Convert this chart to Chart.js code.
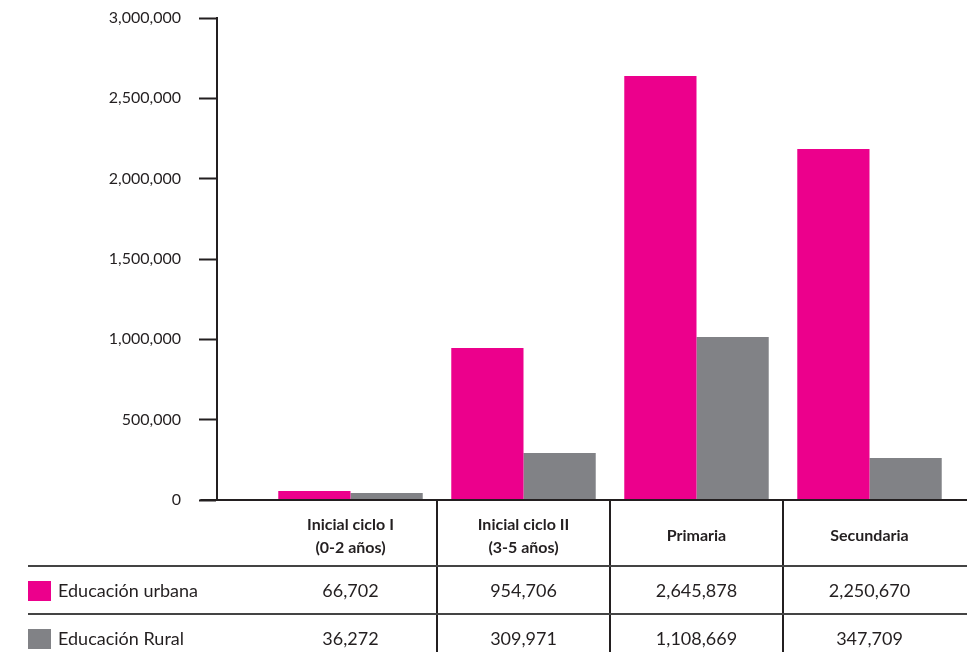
<!DOCTYPE html>
<html>
<head>
<meta charset="utf-8">
<script src="https://cdn.jsdelivr.net/npm/chart.js@4"></script>
<style>
  html, body { margin: 0; padding: 0; background: #fff; }
</style>
</head>
<body>
<canvas id="chart" width="967" height="652"></canvas>
<script>
// categorias (encabezado de la tabla)
const categorias = [["Inicial ciclo I", "(0-2 años)"], ["Inicial ciclo II", "(3-5 años)"], ["Primaria"], ["Secundaria"]];
const series = ["Educación urbana", "Educación Rural"];

// altura de las barras tal como aparecen dibujadas
const urbana = [56000, 946000, 2639000, 2185000];
const rural = [44000, 292000, 1014000, 261000];

// valores impresos en la tabla
const urbanaTabla = ["66,702", "954,706", "2,645,878", "2,250,670"];
const ruralTabla = ["36,272", "309,971", "1,108,669", "347,709"];

const yMax = 3000000;
const yPaso = 500000;

const rosa = "#EC008C";
const gris = "#818286";
const tinta = "#231F20";
const fuente = 'Lato, "Open Sans", sans-serif';
const ejeEn = -0.77; // el eje y queda a la izquierda de la primera columna

const tabla = {
  id: "tabla",
  afterDraw(chart) {
    const ctx = chart.ctx;
    const x = chart.scales.x, y = chart.scales.y;
    const y0 = y.getPixelForValue(0);
    const W = chart.width, H = chart.height;
    const headH = 66, rowH = 48, izq = 28;
    const ejeX = x.getPixelForValue(ejeEn);

    ctx.save();
    ctx.strokeStyle = tinta;
    ctx.lineWidth = 2;
    ctx.beginPath();
    ctx.moveTo(ejeX - 17, y0); ctx.lineTo(W, y0);
    for (let i = 1; i < categorias.length; i++) {
      const cx = Math.round(x.getPixelForValue(i - 0.5));
      ctx.moveTo(cx, y0); ctx.lineTo(cx, H);
    }
    ctx.stroke();

    ctx.strokeStyle = "#444";
    ctx.beginPath();
    ctx.moveTo(izq, y0 + headH); ctx.lineTo(W, y0 + headH);
    ctx.moveTo(izq, y0 + headH + rowH); ctx.lineTo(W, y0 + headH + rowH);
    ctx.stroke();

    ctx.fillStyle = tinta;
    ctx.textAlign = "center";
    ctx.textBaseline = "middle";
    ctx.font = "bold 16px " + fuente;
    categorias.forEach((lab, i) => {
      const cx = x.getPixelForValue(i);
      const cy = y0 + 36;
      lab.forEach((t, j) => {
        ctx.fillText(t, cx, cy + (j - (lab.length - 1) / 2) * 23);
      });
    });

    ctx.font = "18px " + fuente;
    [urbanaTabla, ruralTabla].forEach((fila, r) => {
      const cy = y0 + headH + r * rowH + 25;
      fila.forEach((v, i) => ctx.fillText(v, x.getPixelForValue(i), cy));
      ctx.fillStyle = r === 0 ? rosa : gris;
      ctx.fillRect(izq, cy - 10, 23, 20);
      ctx.fillStyle = tinta;
      ctx.textAlign = "left";
      ctx.fillText(series[r], izq + 30, cy);
      ctx.textAlign = "center";
    });
    ctx.restore();
  }
};

new Chart(document.getElementById("chart"), {
  type: "bar",
  data: {
    labels: categorias.map(c => c.join(" ")),
    datasets: [
      { label: series[0], data: urbana, backgroundColor: rosa, yAxisID: "y" },
      { label: series[1], data: rural, backgroundColor: gris, yAxisID: "y" }
    ]
  },
  options: {
    responsive: false,
    animation: false,
    layout: { padding: { left: 0, right: 11, top: 18, bottom: 152 } },
    datasets: { bar: { barPercentage: 1, categoryPercentage: 0.835 } },
    plugins: { legend: { display: false }, tooltip: { enabled: false } },
    scales: {
      x: { display: false, offset: true },
      // solo las etiquetas
      y: {
        position: "left",
        min: 0,
        max: yMax,
        afterFit: s => { s.width = 264; },
        ticks: {
          stepSize: yPaso,
          padding: 0,
          color: tinta,
          font: { size: 16, family: fuente },
          callback: v => v.toLocaleString("en-US")
        },
        grid: { display: false, drawTicks: true, tickLength: 83 },
        border: { display: false }
      },
      // la linea del eje y sus marcas
      eje: {
        axis: "y",
        type: "linear",
        position: { x: ejeEn },
        min: 0,
        max: yMax,
        ticks: { stepSize: yPaso, display: false },
        grid: { drawOnChartArea: false, tickLength: 17, tickWidth: 2, color: tinta },
        border: { color: tinta, width: 2 }
      }
    }
  },
  plugins: [tabla]
});
</script>
</body>
</html>
